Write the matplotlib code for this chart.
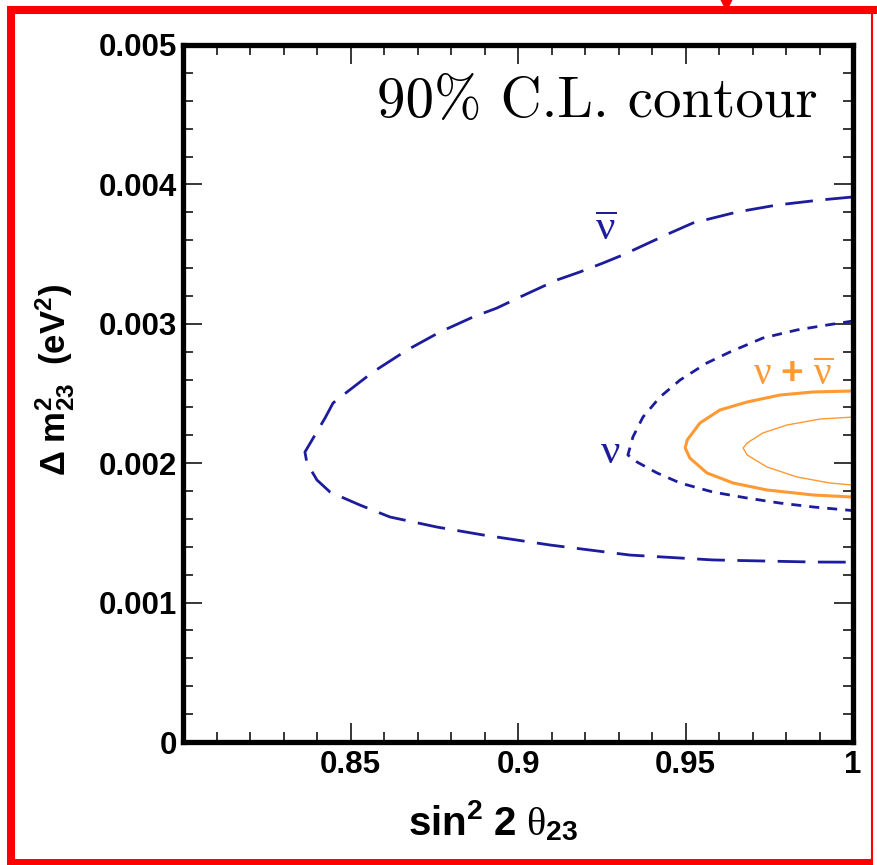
import matplotlib
matplotlib.use("Agg")
import matplotlib.pyplot as plt
from matplotlib.ticker import MultipleLocator, FixedLocator
from matplotlib.lines import Line2D

plt.rcParams['mathtext.fontset'] = 'custom'
plt.rcParams['mathtext.rm'] = 'Liberation Sans:bold'
plt.rcParams['mathtext.bf'] = 'Liberation Sans:bold'
plt.rcParams['mathtext.it'] = 'Liberation Serif'
plt.rcParams['mathtext.sf'] = 'Liberation Sans'

# ---- data ----
nubar_x = [1.000, 0.9902, 0.9773, 0.9654, 0.9522, 0.9454, 0.9313, 0.9254, 0.9185, 0.9116,
           0.9006, 0.8937, 0.8866, 0.8767, 0.8669, 0.8567, 0.8478, 0.8448, 0.8424, 0.8364,
           0.8370, 0.8400, 0.8439, 0.8528, 0.8618, 0.8758, 0.8896, 0.9096, 0.9334, 0.9582,
           0.9881, 1.000]
nubar_y = [0.00391, 0.003888, 0.003852, 0.003802, 0.003723, 0.003651, 0.003494, 0.003436, 0.003372, 0.003314,
           0.003192, 0.003113, 0.003049, 0.002941, 0.002812, 0.002654, 0.002489, 0.002432, 0.002324, 0.00208,
           0.002001, 0.001879, 0.001793, 0.0017, 0.001614, 0.001542, 0.001485, 0.001413, 0.001341, 0.001306,
           0.001291, 0.00129]

nu_x = [1.000, 0.9922, 0.9833, 0.9731, 0.9633, 0.9564, 0.9484, 0.9424, 0.9373, 0.9343,
        0.9328, 0.9355, 0.9415, 0.9484, 0.9582, 0.9684, 0.9782, 0.9881, 1.000]
nu_y = [0.00302, 0.002991, 0.002956, 0.002898, 0.002798, 0.002719, 0.002597, 0.002475, 0.002331, 0.002188,
        0.002059, 0.002009, 0.00193, 0.001858, 0.001793, 0.00175, 0.001714, 0.001686, 0.00166]

comb_outer_x = [1.000, 0.9881, 0.9782, 0.9684, 0.9603, 0.9543, 0.9505, 0.9499, 0.9513, 0.9564,
                0.9642, 0.9743, 0.9881, 1.000]
comb_outer_y = [0.002518, 0.002511, 0.002489, 0.002439, 0.002382, 0.002288, 0.002166, 0.002109, 0.002037, 0.00193,
                0.001858, 0.001808, 0.001772, 0.001757]

comb_inner_x = [1.000, 0.9902, 0.9803, 0.9731, 0.9684, 0.9672, 0.9684, 0.9743, 0.9833, 0.9931, 1.000]
comb_inner_y = [0.002331, 0.002317, 0.002274, 0.002217, 0.002145, 0.002109, 0.002059, 0.001973, 0.001901, 0.001858,
                0.001843]

x_major = [0.85, 0.90, 0.95, 1.00]
x_labels = ['0.85', '0.9', '0.95', '1']
y_major = [0.0, 0.001, 0.002, 0.003, 0.004, 0.005]
y_labels = ['0', '0.001', '0.002', '0.003', '0.004', '0.005']

BLUE = '#1c1c9c'
ORANGE = '#ff9933'

W, H = 878, 865
fig = plt.figure(figsize=(W / 100, H / 100), dpi=100)
ax = fig.add_axes([183 / W, 1 - 742 / H, (853 - 183) / W, (742 - 45) / H])

ax.plot(nubar_x, nubar_y, color=BLUE, lw=2.0, linestyle=(0, (10, 4.5)))
ax.plot(nu_x, nu_y, color=BLUE, lw=2.0, linestyle=(0, (3.6, 2.9)))
ax.plot(comb_outer_x, comb_outer_y, color=ORANGE, lw=2.2)
ax.plot(comb_inner_x, comb_inner_y, color=ORANGE, lw=1.0)

ax.set_xlim(0.8, 1.0)
ax.set_ylim(0.0, 0.005)

ax.xaxis.set_major_locator(FixedLocator(x_major))
ax.xaxis.set_minor_locator(MultipleLocator(0.01))
ax.set_xticklabels(x_labels)
ax.yaxis.set_major_locator(FixedLocator(y_major))
ax.yaxis.set_minor_locator(MultipleLocator(0.0002))
ax.set_yticklabels(y_labels)

for lab in ax.get_xticklabels() + ax.get_yticklabels():
    lab.set_fontfamily('Liberation Sans')
    lab.set_fontweight('bold')
    lab.set_fontsize(22.5)

ax.tick_params(which='both', direction='in', top=True, right=True, width=1.1, color='black')
ax.tick_params(which='major', length=14)
ax.tick_params(which='minor', length=7)
ax.tick_params(axis='x', which='major', pad=6)
ax.tick_params(axis='y', which='major', pad=4)

for s in ax.spines.values():
    s.set_linewidth(3.8)

ax.set_xlabel(r'$\mathbf{sin^2\ 2}\ \theta_{\mathbf{23}}$', fontsize=29)
ax.xaxis.set_label_coords((493 - 183) / 670, -(800 - 742) / 697)
ax.set_ylabel(r'$\Delta\ \mathbf{m^2_{23}\ \ (eV^2)}$', fontsize=25)
ax.yaxis.set_label_coords(-(183 - 77) / 670, 1 - (380 - 45) / 697)

ax.text(0.947, 0.955, '90% C.L. contour', transform=ax.transAxes,
        fontfamily='cmr10', fontsize=41, ha='right', va='top')

ax.text(0.9263, 0.00369, r'$\overline{\nu}$', color=BLUE, fontsize=31, ha='center', va='center')
ax.text(0.9275, 0.00209, r'$\nu$', color=BLUE, fontsize=31, ha='center', va='center')
ax.text(0.9821, 0.00264, r'$\nu\ \mathbf{+}\ \overline{\nu}$', color=ORANGE, fontsize=28,
        ha='center', va='center')

# red frame of the screenshot
def fx(px):
    return px / W

def fy(py):
    return 1 - py / H

frame_lines = [
    ([fx(7), fx(878)], [fy(10), fy(10)], 5.8),
    ([fx(11), fx(11)], [fy(6), fy(865)], 5.8),
    ([fx(7), fx(873)], [fy(862), fy(862)], 4.3),
    ([fx(872), fx(872)], [fy(10), fy(865)], 1.5),
]
for xs, ys, lw in frame_lines:
    fig.add_artist(Line2D(xs, ys, color='red', lw=lw, transform=fig.transFigure, solid_capstyle='butt'))
fig.add_artist(Line2D([fx(726)], [fy(3)], marker='v', markersize=10, color='red', lw=0,
                      transform=fig.transFigure))

fig.savefig('out.png', dpi=100)
